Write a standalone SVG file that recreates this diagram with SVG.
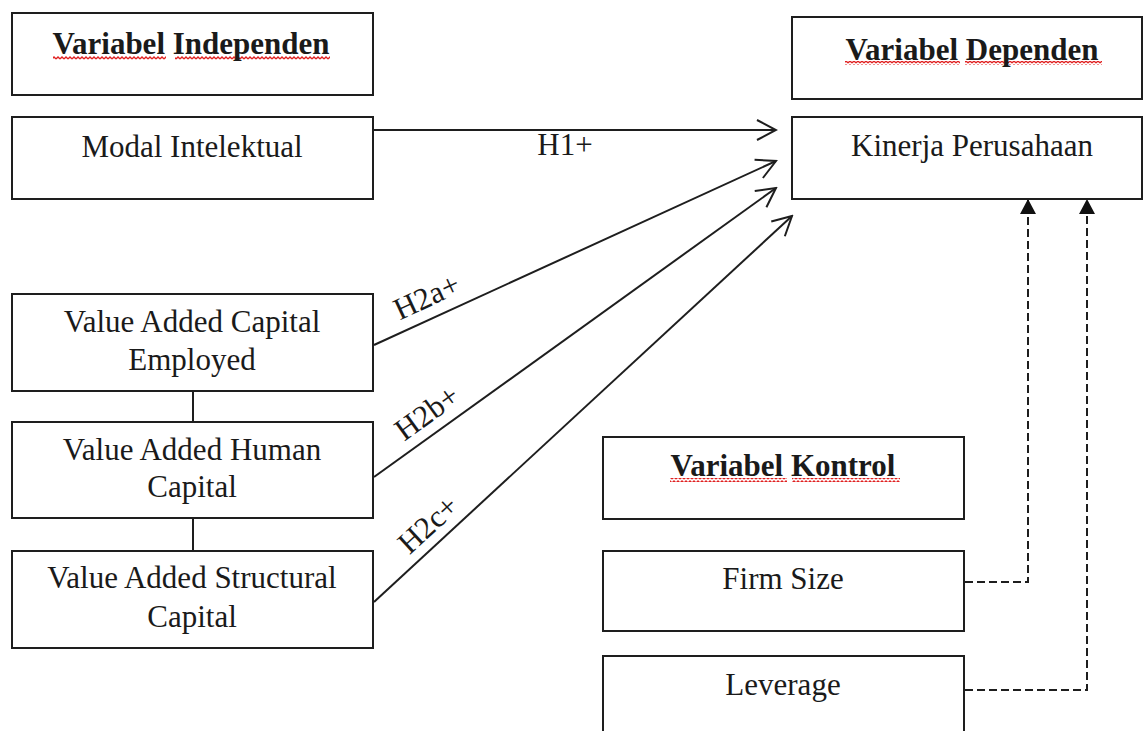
<svg xmlns="http://www.w3.org/2000/svg" width="1145" height="731" viewBox="0 0 1145 731">
<style>
.box{fill:#fff;stroke:#1e1e1e;stroke-width:2}
.t{font-family:"Liberation Serif","Times New Roman",serif;font-size:31px;fill:#1a1a1a;text-anchor:middle}
.b{font-weight:bold}
.ln{fill:none;stroke:#1e1e1e;stroke-width:2}
.arr{marker-end:url(#open)}
.dash{fill:none;stroke:#1e1e1e;stroke-width:2;stroke-dasharray:8 4;marker-end:url(#tri)}
.sq{fill:url(#wave)}
</style>
<defs>
<marker id="open" markerUnits="userSpaceOnUse" viewBox="-22 -13 24 26" markerWidth="24" markerHeight="26" refX="0" refY="0" orient="auto">
<path d="M-19,-10 L0,0 L-19,10" fill="none" stroke="#1e1e1e" stroke-width="2"/>
</marker>
<marker id="tri" markerUnits="userSpaceOnUse" viewBox="-16 -9 18 18" markerWidth="18" markerHeight="18" refX="0" refY="0" orient="auto">
<path d="M-15,-8 L0,0 L-15,8 Z" fill="#111"/>
</marker>
<pattern id="wave" patternUnits="userSpaceOnUse" width="4" height="4">
<path d="M0,3 L2,1 L4,3" fill="none" stroke="#e02020" stroke-width="1.3"/>
</pattern>
</defs>

<g id="connectors">
<line class="ln arr" x1="374" y1="130" x2="776" y2="130"/>
<line class="ln arr" x1="374" y1="345" x2="776" y2="161"/>
<line class="ln arr" x1="374" y1="477" x2="776" y2="188"/>
<line class="ln arr" x1="374" y1="602" x2="792" y2="216"/>
<line class="ln" x1="193" y1="391" x2="193" y2="422"/>
<line class="ln" x1="193" y1="518" x2="193" y2="551"/>
<path class="dash" d="M965,582 H1028 V199"/>
<path class="dash" d="M965,690 H1087 V199"/>
<text class="t" x="565" y="155">H1+</text>
<text class="t" x="431" y="306" transform="rotate(-25 431 306)">H2a+</text>
<text class="t" x="433" y="421" transform="rotate(-36 433 421)">H2b+</text>
<text class="t" x="435" y="532" transform="rotate(-42.5 435 532)">H2c+</text>
</g>

<g id="title-independen">
<rect class="box" x="12" y="13" width="361" height="82"/>
<rect class="sq" x="53" y="56" width="113" height="4"/>
<rect class="sq" x="175" y="56" width="155" height="4"/>
<text class="t b" x="191" y="54">Variabel Independen</text>
</g>

<g id="modal-intelektual">
<rect class="box" x="12" y="117" width="361" height="82"/>
<text class="t" x="192" y="157">Modal Intelektual</text>
</g>

<g id="vace">
<rect class="box" x="12" y="294" width="361" height="97"/>
<text class="t" x="192" y="332">Value Added Capital</text>
<text class="t" x="192" y="370">Employed</text>
</g>

<g id="vahc">
<rect class="box" x="12" y="422" width="361" height="96"/>
<text class="t" x="192" y="460">Value Added Human</text>
<text class="t" x="192" y="497">Capital</text>
</g>

<g id="vasc">
<rect class="box" x="12" y="551" width="361" height="97"/>
<text class="t" x="192" y="588">Value Added Structural</text>
<text class="t" x="192" y="627">Capital</text>
</g>

<g id="title-dependen">
<rect class="box" x="792" y="17" width="350" height="82"/>
<rect class="sq" x="845" y="61" width="115" height="4"/>
<rect class="sq" x="965" y="61" width="137" height="4"/>
<text class="t b" x="972" y="60">Variabel Dependen</text>
</g>

<g id="kinerja">
<rect class="box" x="792" y="117" width="350" height="82"/>
<text class="t" x="972" y="156">Kinerja Perusahaan</text>
</g>

<g id="title-kontrol">
<rect class="box" x="603" y="437" width="361" height="82"/>
<rect class="sq" x="670" y="478" width="117" height="4"/>
<rect class="sq" x="792" y="478" width="108" height="4"/>
<text class="t b" x="783" y="476">Variabel Kontrol</text>
</g>

<g id="firm-size">
<rect class="box" x="603" y="551" width="361" height="80"/>
<text class="t" x="783" y="589">Firm Size</text>
</g>

<g id="leverage">
<rect class="box" x="603" y="656" width="361" height="90"/>
<text class="t" x="783" y="695">Leverage</text>
</g>
</svg>
